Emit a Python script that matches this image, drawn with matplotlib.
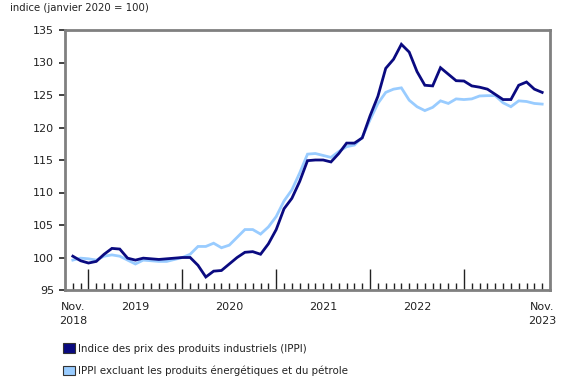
import matplotlib
matplotlib.use("Agg")
import matplotlib.pyplot as plt
from matplotlib.patches import Patch
import matplotlib.transforms as mtransforms

# monthly values, Nov. 2018 to Nov. 2023
ippi = [100.2, 99.5, 99.15, 99.4, 100.5, 101.4, 101.3, 99.9, 99.6, 99.9,
        99.8, 99.7, 99.8, 99.9, 100.0, 100.0, 98.8, 97.0, 97.9, 98.0,
        99.0, 100.0, 100.8, 100.9, 100.5, 102.1, 104.3, 107.5, 109.1, 111.7,
        114.9, 115.0, 115.0, 114.7, 116.0, 117.6, 117.6, 118.4, 121.8, 124.8,
        129.1, 130.5, 132.8, 131.6, 128.6, 126.5, 126.4, 129.2, 128.2, 127.2,
        127.15, 126.4, 126.2, 125.9, 125.1, 124.3, 124.3, 126.5, 127.0, 125.9,
        125.4]
ippi_excl = [99.6, 99.9, 99.8, 99.6, 100.2, 100.4, 100.2, 99.6, 99.0, 99.6,
             99.5, 99.4, 99.4, 99.7, 100.0, 100.5, 101.7, 101.7, 102.2, 101.5,
             101.9, 103.1, 104.3, 104.3, 103.6, 104.7, 106.3, 108.7, 110.4, 113.0,
             115.9, 116.0, 115.7, 115.4, 116.3, 117.05, 117.3, 118.5, 121.2, 123.7,
             125.4, 125.9, 126.1, 124.2, 123.2, 122.6, 123.1, 124.1, 123.7, 124.4,
             124.3, 124.4, 124.85, 124.9, 124.9, 123.8, 123.2, 124.1, 124.0, 123.7,
             123.6]
year_labels = ["Nov.\n2018", "2019", "2020", "2021", "2022", "Nov.\n2023"]
year_pos = [0, 8, 20, 32, 44, 60]
jan_pos = [2, 14, 26, 38, 50]
legend_labels = ["Indice des prix des produits industriels (IPPI)",
                 "IPPI excluant les produits énergétiques et du pétrole"]

dark = "#0a0a80"
light = "#99ccff"
grey = "#808080"
txt = "#222222"

fig = plt.figure(figsize=(5.8, 3.85), dpi=100)
ax = fig.add_axes([65 / 580, 95 / 385, 485 / 580, 260 / 385])

months = list(range(len(ippi)))
ax.plot(months, ippi_excl, color=light, lw=2.0, solid_joinstyle="miter")
ax.plot(months, ippi, color=dark, lw=2.0, solid_joinstyle="miter")

ax.set_xlim(-1, 61)
ax.set_ylim(95, 135)
ax.set_yticks(range(95, 136, 5))
for s in ax.spines.values():
    s.set_color(grey)
    s.set_linewidth(2)
ax.tick_params(axis="y", direction="out", length=4, width=1.2, color="#222222",
               labelsize=8, labelcolor=txt, pad=4)

ax.set_xticks(months, minor=True)
ax.set_xticks(jan_pos)
ax.set_xticklabels([])
ax.tick_params(axis="x", which="minor", direction="in", length=5, width=1, color="#222222")
ax.tick_params(axis="x", which="major", direction="in", length=15, width=1, color="#222222")

trans = mtransforms.blended_transform_factory(ax.transData, ax.transAxes)
for lab, x in zip(year_labels, year_pos):
    ax.text(x, -0.045, lab, transform=trans, ha="center", va="top",
            fontsize=8, color=txt, linespacing=1.6)

fig.text(10 / 580, 1 - 8 / 385, "indice (janvier 2020 = 100)", ha="left", va="center",
         fontsize=7.3, color=txt)

handles = [Patch(facecolor=dark, edgecolor="#333333", lw=0.8),
           Patch(facecolor=light, edgecolor="#333333", lw=0.8)]
fig.legend(handles, legend_labels, loc="upper left", bbox_to_anchor=(54 / 580, 1 - 334 / 385),
           frameon=False, fontsize=7.4, handlelength=1.1, handleheight=1.1,
           handletextpad=0.35, labelspacing=1.15, labelcolor=txt)

fig.savefig("out.png", dpi=100)
